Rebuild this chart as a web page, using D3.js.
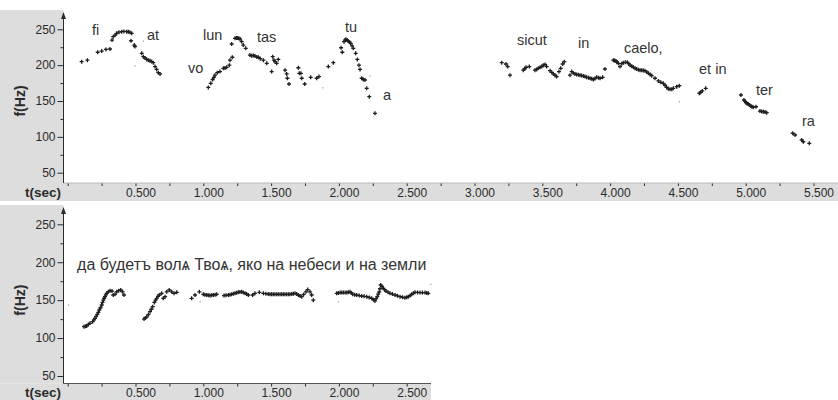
<!DOCTYPE html>
<html><head><meta charset="utf-8">
<script src="https://cdn.jsdelivr.net/npm/d3@7"></script>
<style>body{margin:0;background:#fff}svg{display:block}</style>
</head><body><svg id="c" width="838" height="400"></svg>
<script>
// ---------- DATA ----------
const topT = [0.103,0.145,0.221,0.251,0.282,0.312,0.327,0.336,0.350,0.361,0.378,0.398,0.415,0.435,0.447,0.459,0.472,0.467,0.491,0.496,0.546,0.558,0.570,0.583,0.595,0.607,0.619,0.631,0.644,0.656,0.668,0.681,
1.037,1.055,1.069,1.078,1.086,1.103,1.123,1.148,1.160,1.172,1.192,1.197,1.214,1.209,1.234,1.245,1.251,1.262,1.271,1.283,1.295,1.313,1.344,1.356,1.369,1.381,1.395,1.406,1.420,1.443,1.468,1.504,1.512,1.521,1.529,1.541,1.553,1.603,1.615,1.620,1.632,1.701,1.708,1.720,1.726,1.748,1.792,1.836,1.853,1.922,1.959,
2.016,2.025,2.038,2.045,2.052,2.060,2.069,2.078,2.087,2.097,2.106,2.124,2.136,2.148,2.156,2.168,2.180,2.192,2.205,2.224,2.266,
3.201,3.232,3.245,3.262,3.360,3.370,3.380,3.404,3.446,3.458,3.470,3.484,3.496,3.507,3.520,3.532,3.557,3.570,3.581,3.594,3.606,3.623,3.636,3.650,3.662,
3.704,3.717,3.729,3.741,3.753,3.766,3.778,3.790,3.803,3.815,3.827,3.840,3.852,3.864,3.876,3.889,3.901,3.914,3.926,3.945,3.962,
4.024,4.033,4.043,4.052,4.061,4.073,4.086,4.098,4.112,4.127,4.137,4.147,4.160,4.172,4.184,4.196,4.209,4.221,4.233,4.245,4.257,4.270,4.282,4.295,4.307,4.331,4.356,4.374,4.392,4.405,4.417,4.430,4.442,4.455,4.466,4.491,4.510,
4.658,4.668,4.680,4.705,
4.965,4.987,4.995,5.002,5.010,5.019,5.028,5.037,5.046,5.056,5.076,5.105,5.118,5.130,5.143,5.155,
5.347,5.364,5.413,5.425,5.469];
const topF = [204.8,207,218,219.7,222,222.5,235,239.7,242,244.4,246,246.7,247,246.7,246.5,245.8,244.4,234,228,226,216.5,211.8,210,208,207,206,205,203.4,198,194,189.5,187.7,
169,174.7,180,183,186,189.5,191,195.6,196,197,200,207,211,229.5,237.4,238,238,237.5,236.5,232.7,228,223.5,214,213,213.5,212.7,211.5,211,209,207,202.6,191,211.8,207,205,202.6,208,193,187.7,181.7,173.7,196.4,188.6,188.6,181.7,173.7,183,181.7,184,198,203.4,
224.3,218,232.7,235,236,235,233.7,232,230.5,227,223.5,216.5,208,200,194,181.7,180,179.3,167.7,156,132.8,
203.4,201.6,198,186,193,195,197,198,193,194,195.6,197,198,200,201,198,192.3,190,187.7,186,184,191,195.6,201.6,204.8,
186,191,189,187.7,187,186.5,186,185.5,185,184,183,182.5,181.7,181,180,181.5,183,182.5,181.7,183,194.6,
207,206.5,205.8,204,202.6,198,202,203.4,204,204,202,200,198.5,197,195.6,194.5,193.5,193,193,192.5,192.3,190.5,188.6,187,185.3,181.7,178,176,174.7,172,169,167,166.3,166.5,167.7,170,171.3,
160.7,162,164,167.7,
158.4,151.4,149.5,147.6,146.5,145.8,144.5,143,142,141.2,142,136,135.5,135,134.5,133.7,
105,102.6,95.6,93.2,91];
const topFaintT = [0.496,0.558,1.880,2.229,4.510];
const topFaintF = [199,233.7,168.6,185,149];

const topWords = ["fi","at","vo","lun","tas","tu","a","sicut","in","caelo,","et in","ter","ra"];
const topWordT = [0.179,0.585,0.887,0.998,1.396,2.045,2.325,3.313,3.763,4.102,4.656,5.076,5.415];
const topWordF = [242,235,189,235,232,246,151,228,224,217,188,158,115];

const botT = [0.120,0.130,0.140,0.152,0.164,0.184,0.193,0.201,0.210,0.218,0.226,0.233,0.242,0.251,0.257,0.263,0.269,0.275,0.281,0.288,0.299,0.312,0.327,0.336,0.349,0.361,0.376,0.391,0.405,0.415,
0.563,0.573,0.583,0.595,0.607,0.617,0.627,0.639,0.648,0.656,0.666,0.676,0.693,0.705,0.718,0.730,0.749,0.767,0.784,0.804,
0.914,0.939,0.971,1.000,1.012,1.025,1.037,1.049,1.061,1.074,1.087,1.099,1.153,1.168,1.185,1.197,1.209,1.222,1.234,1.246,1.258,1.270,1.283,1.295,1.308,1.320,1.332,1.364,1.381,1.413,1.443,1.461,1.479,1.492,1.504,1.516,1.528,1.541,1.553,1.566,1.578,1.590,1.602,1.614,1.627,1.639,1.652,1.664,1.676,1.689,1.701,1.714,1.726,1.740,1.757,1.770,1.787,1.799,1.811,
1.984,1.996,2.009,2.021,2.033,2.046,2.058,2.070,2.082,2.092,2.102,2.116,2.131,2.150,2.168,2.186,2.205,2.224,2.242,2.255,2.266,2.275,2.283,2.290,2.298,2.303,2.308,2.318,2.327,2.337,2.347,2.362,2.377,2.395,2.414,2.432,2.451,2.469,2.487,2.500,2.512,2.525,2.537,2.549,2.561,2.580,2.598,2.616,2.635,2.647,2.659];
const botF = [115,115.5,116,118,119.5,121.6,124,126,128.5,131.3,134,137,140,143.6,147,150,152.5,154.6,157,159,161,162.5,162,156.8,157.7,161,162.5,163.4,161,156.8,
125,126.5,128,131,134.8,138,141.4,147,150,152.4,155,156.8,159,152.4,154.6,161,163.4,161,159,160.3,
152.4,156.8,161,157.7,157,156.8,156.5,156,156.5,156.8,157.2,157.7,156,156.5,156.8,157.2,157.7,158.5,159,159.8,160.3,160.8,161,160,159,158,156.8,156.8,159,160.3,159,158.5,158,157.7,157.7,157.7,157.7,157.7,157.7,157.7,157.7,157.7,157.7,157.7,157.7,157.7,158,158.5,159,158,156.8,155.5,154.6,157.5,161,164,161,156.8,150,
159,159.5,160,160,160,160,160,160.5,161,159.5,157.7,157.2,156.8,156,155.5,155,154.6,153.5,152.4,150.5,149,152,154.6,158,161,165,170,168,165.6,163.8,162,160.5,159,158,156.8,155.7,154.6,153.8,153,153.8,154.6,156,157.7,159,160.3,160.2,160,160,160,159.5,159];
const botFaintT = [0.005,0.976,1.996,2.677];
const botFaintF = [143.6,148,148,171];

const botText = "да будетъ волѧ Твоѧ, яко на небеси и на земли";
const botTextT = 0.069, botTextF = 189.8;

const yMajor = [50,100,150,200,250];
const yMinor = [75,125,175,225];
const xLabelFmt = d3.format(".3f");

// ---------- DRAW ----------
const svg = d3.select("#c");
const GREY = "#dddddd", INK = "#2b2b2b";
const FONT = "'Liberation Sans', Arial, sans-serif";

const panels = [
  {T: topT, F: topF, fT: topFaintT, fF: topFaintF, top: 10, axisY: 183, bandBottom: 201, right: 838,
   yR: [172.7, 29.3], arrowTop: 12, xMax: 5.5},
  {T: botT, F: botF, fT: botFaintT, fF: botFaintF, top: 205, axisY: 383.5, bandBottom: 400, right: 431,
   yR: [376, 224.3], arrowTop: 207, xMax: 2.5}
];
const AX = 63.5;

panels.forEach((p, i) => {
  const g = svg.append("g");
  const x = d3.scaleLinear().domain([0, 5.5]).range([67.7, 813.5]);
  const y = d3.scaleLinear().domain([50, 250]).range(p.yR);

  // grey frames
  g.append("rect").attr("x", 0).attr("y", p.top).attr("width", AX).attr("height", p.axisY - p.top).attr("fill", GREY);
  g.append("rect").attr("x", 0).attr("y", p.axisY).attr("width", p.right).attr("height", p.bandBottom - p.axisY).attr("fill", GREY);

  // x axis
  const xa = d3.axisBottom(x).tickValues(d3.range(0, p.xMax + 0.001, 0.25)).tickSize(3).tickFormat("");
  const xg = g.append("g").attr("transform", `translate(0,${p.axisY})`).call(xa);
  xg.select(".domain").remove();
  xg.selectAll(".tick line").attr("stroke", INK).attr("stroke-width", 1);
  g.append("line").attr("x1", AX).attr("x2", p.right).attr("y1", p.axisY).attr("y2", p.axisY)
    .attr("stroke", i === 0 ? "#bbbbbb" : "#555").attr("stroke-width", 1);
  const labs = d3.range(0.5, p.xMax + 0.001, 0.5);
  g.selectAll(".xl").data(labs).enter().append("text")
    .attr("x", d => x(d) - 9.5).attr("y", p.axisY + 13.5)
    .attr("font-family", FONT).attr("font-size", 12).attr("fill", INK)
    .text(d => xLabelFmt(d));
  g.append("text").attr("x", 25).attr("y", p.axisY + 13.5)
    .attr("font-family", FONT).attr("font-size", 13.5).attr("font-weight", "bold").attr("fill", INK)
    .text("t(sec)");

  // y axis
  g.append("line").attr("x1", AX).attr("x2", AX).attr("y1", p.arrowTop + 3).attr("y2", p.axisY)
    .attr("stroke", INK).attr("stroke-width", 1);
  g.append("path").attr("d", `M${AX},${p.arrowTop}L${AX - 2.5},${p.arrowTop + 7}L${AX + 2.5},${p.arrowTop + 7}Z`).attr("fill", INK);
  const ya = d3.axisLeft(y).tickValues(yMajor).tickSize(6).tickPadding(2);
  const yg = g.append("g").attr("transform", `translate(${AX},0)`).call(ya);
  yg.select(".domain").remove();
  yg.selectAll(".tick line").attr("stroke", INK);
  yg.selectAll(".tick text").attr("font-family", FONT).attr("font-size", 12).attr("fill", INK);
  const ym = d3.axisLeft(y).tickValues(yMinor).tickSize(3).tickFormat("");
  const ymg = g.append("g").attr("transform", `translate(${AX},0)`).call(ym);
  ymg.select(".domain").remove();
  ymg.selectAll(".tick line").attr("stroke", INK);
  g.append("text").attr("transform", `translate(25,${(y(150))}) rotate(-90)`)
    .attr("text-anchor", "middle")
    .attr("font-family", FONT).attr("font-size", 14).attr("font-weight", "bold").attr("fill", INK)
    .text("f(Hz)");

  // points
  const pts = p.T.map((t, k) => [t, p.F[k]]);
  g.selectAll(".pt").data(pts).enter().append("path")
    .attr("d", d => `M${x(d[0]) - 2},${y(d[1])}h4M${x(d[0])},${y(d[1]) - 2}v4`)
    .attr("stroke", "#1e1e1e").attr("stroke-width", 1.3);
  const fpts = p.fT.map((t, k) => [t, p.fF[k]]);
  g.selectAll(".fp").data(fpts).enter().append("rect")
    .attr("x", d => x(d[0]) - 0.5).attr("y", d => y(d[1]) - 0.5).attr("width", 1.2).attr("height", 1.2)
    .attr("fill", "#999");

  // labels
  if (i === 0) {
    g.selectAll(".wl").data(topWords).enter().append("text")
      .attr("x", (d, k) => x(topWordT[k])).attr("y", (d, k) => y(topWordF[k]))
      .attr("font-family", FONT).attr("font-size", 14.5).attr("fill", "#333")
      .text(d => d);
  } else {
    g.append("text").attr("x", x(botTextT)).attr("y", y(botTextF))
      .attr("font-family", FONT).attr("font-size", 16).attr("fill", "#333")
      .text(botText);
  }
});
</script>
</body></html>
